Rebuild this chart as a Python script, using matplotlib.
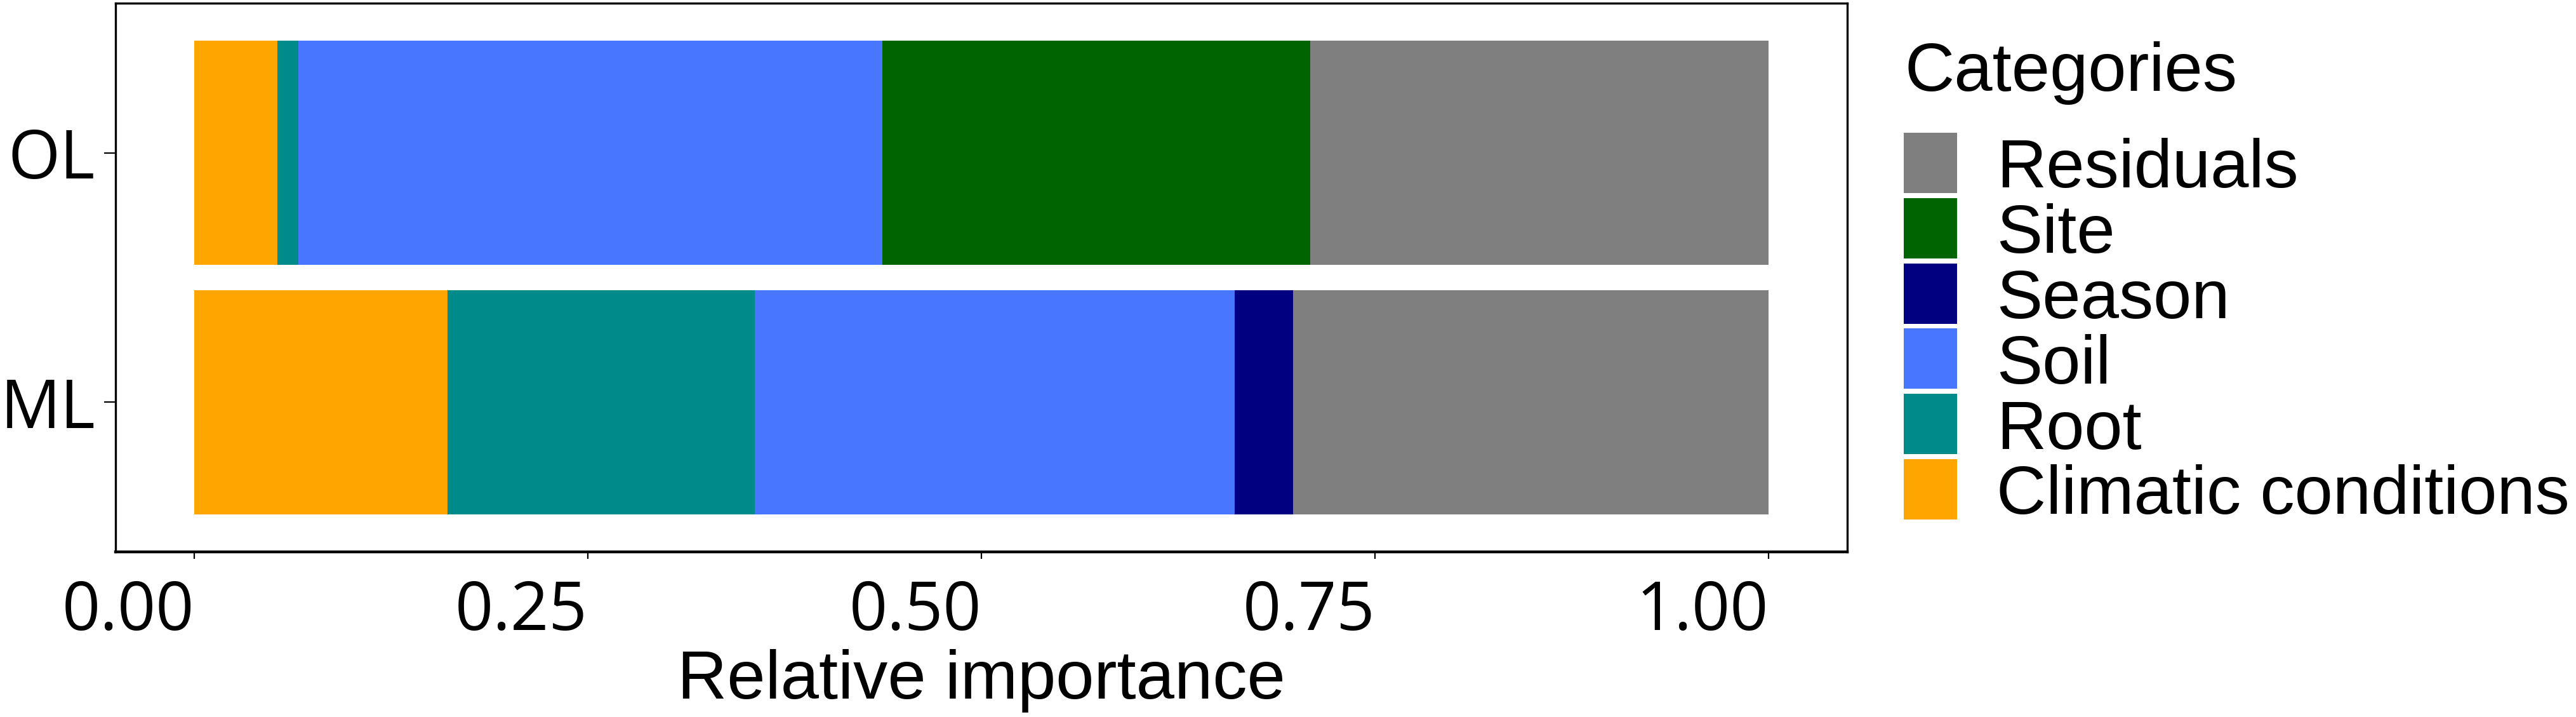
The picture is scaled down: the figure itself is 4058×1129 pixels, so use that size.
import matplotlib.pyplot as plt
from matplotlib.patches import Rectangle

# data
groups = ["ML", "OL"]
categories = ["Climatic conditions", "Root", "Soil", "Season", "Site", "Residuals"]
climatic = [0.161, 0.053]
root = [0.195, 0.013]
soil = [0.305, 0.371]
season = [0.037, 0.0]
site = [0.0, 0.272]
residuals = [0.302, 0.291]
colors = ["#FFA500", "#008B8B", "#4876FF", "#000080", "#006400", "#7F7F7F"]
xticks = [0, 0.25, 0.5, 0.75, 1.0]
xticklabels = ["0.00", "0.25", "0.50", "0.75", "1.00"]

W, H = 4058, 1129
fig = plt.figure(figsize=(W / 100, H / 100), dpi=100)
ax = fig.add_axes([182 / W, 1 - 869 / H, (2910 - 182) / W, (869 - 5) / H])

series = [climatic, root, soil, season, site, residuals]
ypos = list(range(1, len(groups) + 1))
left = [0.0] * len(groups)
for vals, col in zip(series, colors):
    ax.barh(ypos, vals, left=left, height=0.9, color=col, linewidth=0)
    left = [l + v for l, v in zip(left, vals)]

ax.set_xlim(-0.05, 1.05)
ax.set_ylim(0.4, 2.6)
ax.set_xticks(xticks)
ax.set_xticklabels(xticklabels, ha="right")
ax.set_yticks(ypos)
ax.set_yticklabels(groups)

for lab in ax.get_xticklabels() + ax.get_yticklabels():
    lab.set_fontfamily("Open Sans")
    lab.set_fontsize(76)
ax.tick_params(axis="x", length=8, width=1.6, pad=22)
ax.tick_params(axis="y", length=13, width=1.6, pad=10)
for s in ax.spines.values():
    s.set_linewidth(2.4)
ax.spines["bottom"].set_linewidth(3.2)

ax.set_xlabel("Relative importance", family="Liberation Sans", fontsize=78, labelpad=4)

# legend drawn by hand, ggplot style
fig.text(3000 / W, 1 - 143 / H, "Categories", family="Liberation Sans",
         fontsize=78, va="baseline", ha="left")
for i, (lab, col) in enumerate(zip(categories[::-1], colors[::-1])):
    yc = 256.5 + i * 102.8
    fig.patches.append(Rectangle((2999 / W, 1 - (yc + 47.5) / H), 84 / W, 95 / H,
                                 transform=fig.transFigure, color=col, linewidth=0))
    fig.text(3145 / W, 1 - (yc + 39) / H, lab, family="Liberation Sans",
             fontsize=78, va="baseline", ha="left")

fig.savefig("out.png", dpi=100)
